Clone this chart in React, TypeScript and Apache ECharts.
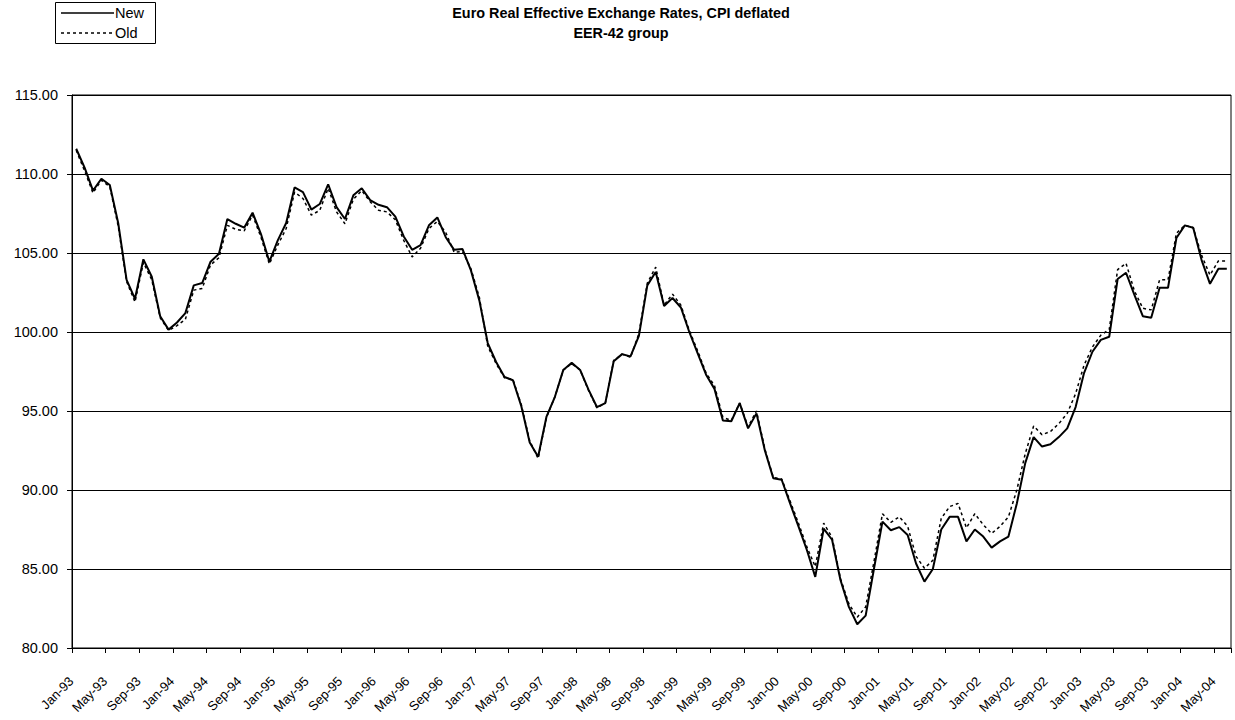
import React, { useEffect, useRef } from "react";
import * as echarts from "echarts";

const monthNames = ["Jan", "Feb", "Mar", "Apr", "May", "Jun", "Jul", "Aug", "Sep", "Oct", "Nov", "Dec"];
const years = ["93", "94", "95", "96", "97", "98", "99", "00", "01", "02", "03", "04"];
const monthsInLastYear = 6;

const categories: string[] = [];
years.forEach((y, yi) => {
  const n = yi === years.length - 1 ? monthsInLastYear : 12;
  for (let m = 0; m < n; m++) categories.push(`${monthNames[m]}-${y}`);
});

const newValues = [
  111.6, 110.4, 108.95, 109.7, 109.3, 106.9, 103.3, 102.1, 104.6, 103.5, 101.0, 100.15,
  100.6, 101.2, 102.95, 103.1, 104.45, 104.95, 107.15, 106.85, 106.6, 107.55, 106.2, 104.45,
  105.8, 106.9, 109.15, 108.85, 107.75, 108.1, 109.35, 107.9, 107.15, 108.65, 109.1, 108.35,
  108.05, 107.9, 107.3, 106.05, 105.2, 105.5, 106.75, 107.25, 106.0, 105.2, 105.25, 103.9,
  102.0, 99.3, 98.1, 97.15, 96.95, 95.3, 93.0, 92.1, 94.65, 95.9, 97.6, 98.05,
  97.6, 96.35, 95.25, 95.5, 98.15, 98.6, 98.45, 99.75, 102.95, 103.8, 101.65, 102.15,
  101.55, 100.0, 98.65, 97.3, 96.4, 94.4, 94.35, 95.5, 93.9, 94.85, 92.5, 90.75,
  90.65, 89.15, 87.7, 86.2, 84.5, 87.55, 86.85, 84.3, 82.6, 81.5, 82.05, 85.05,
  88.0, 87.45, 87.65, 87.15, 85.35, 84.2, 85.0, 87.5, 88.3, 88.3, 86.75, 87.5,
  87.05, 86.35, 86.75, 87.05, 89.15, 91.7, 93.35, 92.75, 92.9, 93.35, 93.9, 95.25,
  97.4, 98.75, 99.5, 99.7, 103.35, 103.75, 102.35, 101.0, 100.9, 102.8, 102.8, 105.95,
  106.75, 106.6, 104.55, 103.05, 104.0, 104.0,
];

const oldValues = [
  111.5, 110.2, 108.8, 109.6, 109.2, 106.7, 103.2, 101.9, 104.4, 103.3, 100.9, 100.1,
  100.4, 100.8, 102.65, 102.75, 104.25, 104.7, 106.75, 106.5, 106.4, 107.4, 106.0, 104.3,
  105.5, 106.55, 108.85, 108.45, 107.4, 107.7, 109.1, 107.6, 106.85, 108.4, 108.95, 108.25,
  107.7, 107.6, 107.1, 105.8, 104.75, 105.3, 106.55, 107.0, 106.3, 105.05, 105.1, 104.0,
  102.2, 99.1, 98.0, 97.1, 97.0, 95.4, 93.1, 92.0, 94.6, 95.9, 97.6, 98.0,
  97.6, 96.3, 95.2, 95.5, 98.2, 98.6, 98.4, 99.9, 103.1, 104.1, 101.7, 102.4,
  101.7, 100.1, 98.8, 97.4, 96.6, 94.6, 94.4, 95.5, 94.0, 95.0, 92.6, 90.8,
  90.7, 89.3, 87.9, 86.4, 85.15, 87.9, 87.0, 84.4, 82.8, 81.95, 82.6, 85.5,
  88.5, 87.95, 88.3, 87.7, 85.8, 85.05, 85.55, 88.2, 88.95, 89.15, 87.6, 88.5,
  87.8, 87.25, 87.7, 88.3, 90.0, 92.3, 94.05, 93.5, 93.7, 94.2, 94.85, 96.1,
  97.9, 99.05, 99.8, 100.15, 103.95, 104.35, 102.6, 101.5, 101.4, 103.3, 103.3, 106.25,
  106.75, 106.6, 104.85, 103.6, 104.5, 104.5,
];

const titleLines = ["Euro Real Effective Exchange Rates, CPI deflated", "EER-42 group"];
const seriesNames = ["New", "Old"];

export default function App() {
  const ref = useRef<HTMLDivElement>(null);
  useEffect(() => {
    if (!ref.current) return;
    const chart = echarts.init(ref.current, undefined, { renderer: "svg" });
    const font = "Arial, 'Liberation Sans', sans-serif";
    const legendStyle = { fill: "#000", fontSize: 14.5, fontFamily: font, verticalAlign: "middle", align: "left" };
    chart.setOption({
      animation: false,
      backgroundColor: "#fff",
      textStyle: { fontFamily: font, color: "#000" },
      title: {
        text: titleLines.join("\n"),
        left: 621,
        textAlign: "center",
        top: 3,
        padding: 0,
        textStyle: { fontSize: 14.4, fontWeight: "bold", color: "#000", lineHeight: 20, fontFamily: font },
      },
      graphic: [
        {
          type: "rect",
          shape: { x: 55.5, y: 2.5, width: 100, height: 41 },
          style: { fill: "#fff", stroke: "#000", lineWidth: 1 },
        },
        {
          type: "line",
          shape: { x1: 61, y1: 13, x2: 114, y2: 13 },
          style: { stroke: "#000", lineWidth: 1.5 },
        },
        {
          type: "line",
          shape: { x1: 61, y1: 33, x2: 114, y2: 33 },
          style: { stroke: "#000", lineWidth: 1.5, lineDash: [3, 3] },
        },
        { type: "text", x: 115, y: 13, style: { ...legendStyle, text: seriesNames[0] } },
        { type: "text", x: 115, y: 33, style: { ...legendStyle, text: seriesNames[1] } },
      ],
      grid: {
        left: 72,
        right: 4,
        top: 95,
        bottom: 72,
        show: true,
        borderColor: "#000",
        borderWidth: 1,
        backgroundColor: "transparent",
      },
      xAxis: {
        type: "category",
        data: categories,
        boundaryGap: true,
        axisLine: { lineStyle: { color: "#000", width: 1 } },
        axisTick: { show: true, interval: 3, length: 5, lineStyle: { color: "#000" } },
        axisLabel: {
          interval: 3,
          rotate: 45,
          margin: 26,
          padding: [0, 7, 0, 0],
          fontSize: 13,
          color: "#000",
          fontFamily: font,
        },
        splitLine: { show: false },
      },
      yAxis: {
        type: "value",
        min: 80,
        max: 115,
        interval: 5,
        axisLine: { show: true, lineStyle: { color: "#000", width: 1 } },
        axisTick: { show: true, length: 5, lineStyle: { color: "#000" } },
        axisLabel: {
          formatter: (v: number) => v.toFixed(2),
          fontSize: 14.5,
          color: "#000",
          margin: 14,
          fontFamily: font,
        },
        splitLine: { show: true, lineStyle: { color: "#000", width: 1 } },
      },
      series: [
        {
          name: seriesNames[0],
          type: "line",
          data: newValues,
          symbol: "none",
          lineStyle: { color: "#000", width: 2, type: "solid" },
          itemStyle: { color: "#000" },
          z: 3,
        },
        {
          name: seriesNames[1],
          type: "line",
          data: oldValues,
          symbol: "none",
          lineStyle: { color: "#000", width: 1.5, type: [3, 3] },
          itemStyle: { color: "#000" },
          z: 2,
        },
      ],
    });
    return () => chart.dispose();
  }, []);
  return (
    <div
      ref={ref}
      style={{ position: "fixed", left: 0, top: 0, width: 1235, height: 720, background: "#fff" }}
    />
  );
}
